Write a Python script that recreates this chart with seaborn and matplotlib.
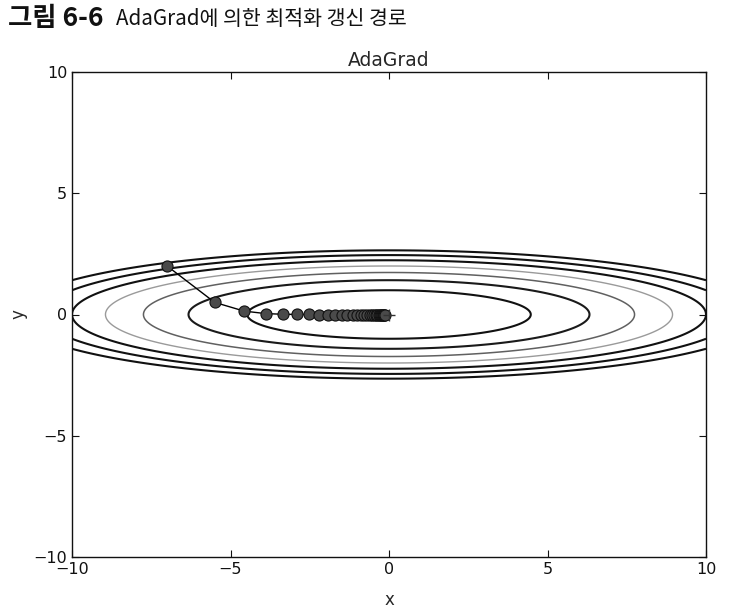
import numpy as np
import pandas as pd
import matplotlib
matplotlib.use("Agg")
import matplotlib.pyplot as plt
import seaborn as sns

# 갱신 경로
path_x = [-7.0, -5.5, -4.57, -3.89, -3.34, -2.90, -2.52, -2.21, -1.93, -1.70,
          -1.49, -1.31, -1.15, -1.02, -0.89, -0.79, -0.69, -0.61, -0.54, -0.48,
          -0.42, -0.37, -0.33, -0.29, -0.25, -0.22, -0.20, -0.17, -0.15, -0.14]
path_y = [2.0, 0.5, 0.14, 0.037, 0.010, 0.003, 0.001, 0.0, 0.0, 0.0,
          0.0, 0.0, 0.0, 0.0, 0.0, 0.0, 0.0, 0.0, 0.0, 0.0,
          0.0, 0.0, 0.0, 0.0, 0.0, 0.0, 0.0, 0.0, 0.0, 0.0]

# 등고선: f(x, y) = x^2/20 + y^2
coef_x = 1 / 20
coef_y = 1.0
levels = [1, 2, 3, 4, 5, 6, 7]
level_colors = ["#111111", "#1a1a1a", "#606060", "#9a9a9a", "#111111", "#111111", "#111111"]
level_widths = [1.5, 1.5, 1.1, 1.0, 1.5, 1.5, 1.5]

target_x = [0]
target_y = [0]

caption_bold = "그림 6-6"
caption_rest = "AdaGrad에 의한 최적화 갱신 경로"
title = "AdaGrad"

sns.set_style("ticks")
plt.rcParams["font.family"] = ["DejaVu Sans", "Noto Sans CJK KR"]
plt.rcParams["xtick.direction"] = "in"
plt.rcParams["ytick.direction"] = "in"
plt.rcParams["xtick.top"] = True
plt.rcParams["ytick.right"] = True

fig = plt.figure(figsize=(7.38, 6.13), dpi=100)
ax = fig.add_axes([72 / 738, 1 - 557 / 613, 634 / 738, 485 / 613])

gx = np.linspace(-10, 10, 801)
gy = np.linspace(-5, 5, 401)
X, Y = np.meshgrid(gx, gy)
Z = coef_x * X ** 2 + coef_y * Y ** 2
ax.contour(X, Y, Z, levels=levels, colors=level_colors, linewidths=level_widths)

df = pd.DataFrame({"x": path_x, "y": path_y})
sns.lineplot(data=df, x="x", y="y", sort=False, estimator=None, ax=ax,
             color="black", linewidth=1.0, marker="o", markersize=8,
             markerfacecolor="#4a4a4a", markeredgecolor="#111111", markeredgewidth=0.8)
ax.plot(target_x, target_y, "+", color="#333333", markersize=8)

ax.set_xlim(-10, 10)
ax.set_ylim(-10, 10)
ax.set_xticks([-10, -5, 0, 5, 10])
ax.set_yticks([-10, -5, 0, 5, 10])
ax.tick_params(labelsize=11.5, length=5, width=0.8, colors="#111111")
for s in ax.spines.values():
    s.set_linewidth(1.0)
    s.set_color("#111111")
ax.set_title(title, fontsize=13.5, pad=4)
ax.set_xlabel("x", fontsize=12)
ax.set_ylabel("y", fontsize=12)
ax.xaxis.set_label_coords(0.5, -0.07)
ax.yaxis.set_label_coords(-0.07, 0.5)

# 캡션
t1 = fig.text(8 / 738, 1 - 19 / 613, caption_bold, fontsize=19, fontweight="black",
              family=["Noto Sans CJK KR"], va="center", ha="left", color="#111111")
fig.canvas.draw()
bb = t1.get_window_extent(fig.canvas.get_renderer())
fig.text((bb.x1 + 12) / 738, 1 - 19 / 613, caption_rest, fontsize=14.8,
         family=["Noto Sans CJK KR"], va="center", ha="left", color="#111111")

fig.savefig("out.png", dpi=100)
